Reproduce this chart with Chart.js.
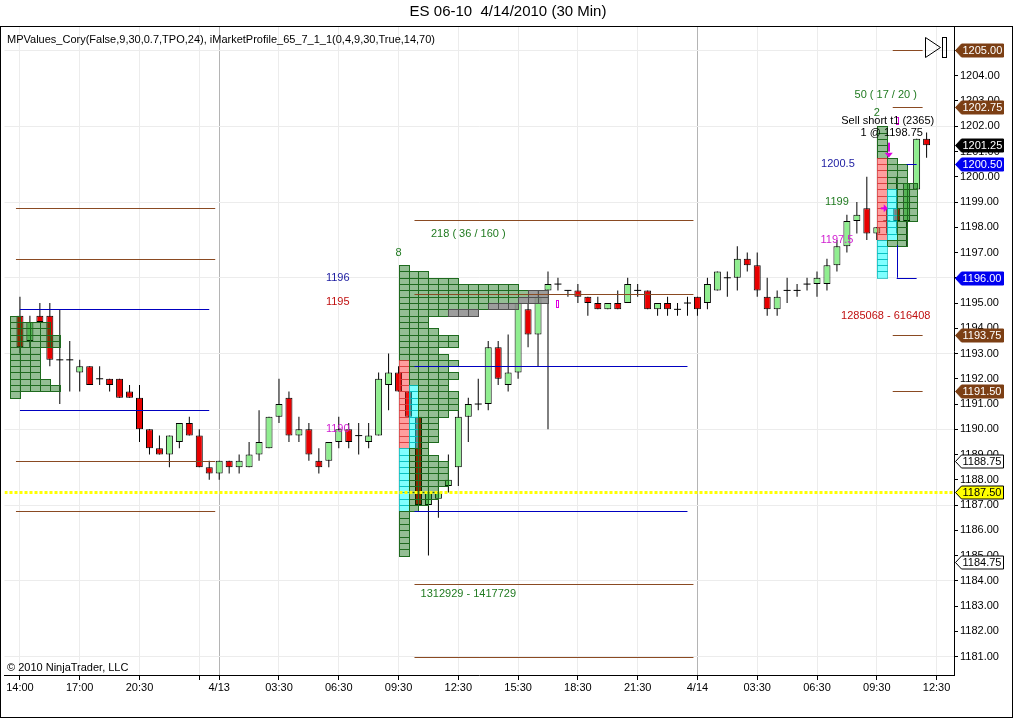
<!DOCTYPE html>
<html>
<head>
<meta charset="utf-8">
<script src="https://cdn.jsdelivr.net/npm/chart.js"></script>
<style>
  html, body { margin: 0; padding: 0; background: #fff; }
  #wrap { width: 1016px; height: 719px; }
</style>
</head>
<body>
<div id="wrap"><canvas id="chart" width="1016" height="719"></canvas></div>
<script>
// ES 06-10, 30 min bars, 4/12 14:00 .. 4/14 12:00
const opens = [1194.5,1193.5,1194.5,1194.5,1192.75,1192.75,1192.25,1192.5,1192.0,1192.0,
  1192.0,1191.5,1191.25,1190.0,1189.25,1189.0,1189.5,1190.25,1189.75,1188.5,
  1188.25,1188.75,1188.5,1188.5,1189.0,1189.25,1190.5,1191.25,1189.75,1190.0,
  1188.75,1188.75,1189.5,1190.0,1189.75,1189.5,1189.75,1191.75,1192.25,1191.5,
  1190.5,1187.0,1187.25,1187.75,1188.5,1190.5,1191.0,1191.0,1193.25,1191.75,
  1192.25,1194.75,1193.75,1195.5,1195.75,1195.5,1195.5,1195.25,1195.0,1194.75,
  1195.0,1195.0,1195.5,1195.5,1194.75,1195.0,1194.75,1195.0,1195.25,1195.0,
  1195.5,1196.0,1196.0,1196.75,1196.5,1195.25,1194.75,1195.5,1195.5,1195.75,
  1195.75,1195.75,1196.5,1197.25,1198.25,1198.75,1197.75,1198.25,1198.75,1198.25,
  1199.5,1201.5];
const highs = [1195.25,1194.5,1195.0,1195.0,1194.75,1193.5,1192.75,1192.5,1192.5,1192.0,
  1192.0,1191.75,1191.75,1190.0,1189.75,1189.75,1190.25,1190.5,1190.0,1188.75,
  1188.75,1188.75,1189.0,1189.5,1190.75,1190.5,1192.0,1191.5,1190.5,1190.25,
  1189.25,1189.5,1190.5,1190.25,1190.25,1190.25,1192.25,1193.0,1192.5,1191.5,
  1190.5,1188.0,1188.25,1189.0,1190.75,1191.25,1192.0,1193.5,1193.5,1193.75,
  1195.0,1195.0,1195.5,1196.25,1196.0,1195.5,1195.75,1195.25,1195.25,1195.0,
  1195.5,1196.0,1195.75,1195.5,1195.0,1195.25,1195.0,1195.25,1195.25,1196.0,
  1196.25,1196.25,1197.25,1197.0,1197.0,1196.0,1195.5,1196.0,1195.75,1196.0,
  1196.25,1196.75,1197.5,1198.5,1199.0,1200.0,1198.0,1198.75,1200.0,1199.75,
  1201.5,1201.75];
const lows = [1193.0,1193.25,1194.25,1192.5,1191.0,1191.5,1191.5,1191.75,1191.75,1191.5,
  1191.25,1191.25,1189.5,1189.0,1189.0,1188.5,1189.25,1189.75,1188.5,1188.0,
  1188.0,1188.25,1188.25,1188.5,1188.75,1189.25,1190.25,1189.5,1189.5,1188.75,
  1188.25,1188.5,1189.25,1189.25,1189.0,1189.25,1189.75,1190.75,1191.5,1190.5,
  1187.0,1185.0,1186.5,1187.5,1187.75,1189.5,1190.75,1190.75,1191.75,1191.5,
  1192.0,1193.25,1192.5,1190.0,1195.5,1195.25,1195.0,1194.5,1194.75,1194.75,
  1194.75,1195.0,1195.25,1194.75,1194.5,1194.5,1194.5,1194.5,1194.5,1194.75,
  1195.5,1195.25,1195.5,1196.25,1195.25,1194.5,1194.5,1195.0,1195.25,1195.5,
  1195.25,1195.5,1196.25,1197.0,1197.75,1197.5,1197.5,1197.75,1197.75,1197.25,
  1199.5,1200.75];
const closes = [1193.25,1194.25,1194.25,1192.75,1192.75,1192.75,1192.5,1191.75,1192.0,1191.75,
  1191.25,1191.25,1190.0,1189.25,1189.0,1189.75,1190.25,1189.75,1188.5,1188.25,
  1188.75,1188.5,1188.75,1189.0,1189.5,1190.5,1191.0,1189.75,1190.0,1189.0,
  1188.5,1189.5,1190.0,1189.5,1189.75,1189.75,1192.0,1192.25,1191.5,1190.5,
  1187.0,1187.5,1187.5,1188.0,1190.5,1191.0,1191.0,1193.25,1192.0,1192.25,
  1195.0,1193.75,1195.25,1195.75,1195.75,1195.5,1195.25,1195.0,1194.75,1195.0,
  1194.75,1195.75,1195.5,1194.75,1195.0,1194.75,1194.75,1195.0,1194.75,1195.75,
  1196.25,1196.0,1196.75,1196.5,1195.5,1194.75,1195.25,1195.5,1195.5,1195.75,
  1196.0,1196.5,1197.25,1198.25,1198.5,1197.75,1198.0,1198.25,1198.25,1199.75,
  1201.5,1201.25];

const xTickBars = [0, 6, 12, 18, 20, 26, 32, 38, 44, 50, 56, 62, 68, 74, 80, 86, 92];
const xTickLabels = ['14:00','17:00','20:30','','4/13','03:30','06:30','09:30','12:30',
  '15:30','18:30','21:30','4/14','03:30','06:30','09:30','12:30'];
const dayBreakBars = [20, 68];
const priceTicks = [1181,1182,1183,1184,1185,1186,1187,1188,1189,1190,1191,1192,1193,
  1194,1195,1196,1197,1198,1199,1200,1201,1202,1203,1204,1205];

// market profiles: first bar, top row price, TPO count per 0.25 row
const profAStart = -1, profATop = 1194.5;
const profACounts = [1,4,4,5,5,3,3,3,3,3,4,5,1];
const profBStart = 38, profBTop = 1196.5;
const profBCounts = [1,3,6,12,15,15,12,8,3,3,4,6,6,4,5,6,5,6,5,5,6,6,6,5,4,4,4,4,3,3,
  4,5,5,5,5,4,4,3,2,1,1,1,1,1,1,1];
const profBGray = [0,0,0,0,2,3,3,3];
const profCStart = 86, profCTop = 1202.0;
const profCCounts = [1,1,1,1,1,2,3,3,3,4,4,4,4,4,4,3,3,3,3,1,1,1,1,1];
// [profile start bar, column, top row, bottom row]
const pinkCells = [[38,0,1192.75,1189.5],[86,0,1200.75,1197.75]];
const cyanCells = [[38,0,1189.25,1187.0],[38,1,1191.75,1189.5],[86,0,1197.5,1196.25],[86,1,1199.5,1197.75]];

// value lines: [price, from bar, to bar]
const brownLines = [[1198.75,-0.4,19.6],[1196.75,-0.4,19.6],[1188.75,-0.4,19.6],[1186.75,-0.4,19.6],
  [1198.3,39.6,67.6],[1195.375,39.6,67.6],[1183.875,39.6,67.6],[1181.0,39.6,67.6],
  [1205.0,87.6,90.6],[1202.75,87.6,90.6],[1193.75,87.6,90.6],[1191.5,87.6,90.6]];
const blueLines = [[1194.75,0,19],[1190.75,0,19],[1192.5,39.6,67],[1186.75,39.6,67],
  [1200.5,89,90],[1196.0,88,90]];
const lastPrice = 1187.5;

const flagPrices = [1205.0,1202.75,1201.25,1200.5,1196.0,1193.75,1191.5,1188.75,1187.5,1184.75];
const flagKinds = ['brown','brown','black','blue','blue','brown','brown','white','yellow','white'];

const bars = opens.map((o, i) => i);
const bodyData = bars.filter(i => opens[i] !== closes[i]).map(i => ({x: i, y: [opens[i], closes[i]]}));
const bodyColors = bars.filter(i => opens[i] !== closes[i]).map(i => closes[i] > opens[i] ? '#90ee90' : '#e80000');
const dojiData = bars.filter(i => opens[i] === closes[i]).map(i => ({x: i, y: opens[i]}));
const wickData = bars.map(i => ({x: i, y: [lows[i], highs[i]]}));

Chart.defaults.font.family = "'Liberation Sans', Arial, sans-serif";
Chart.defaults.font.size = 11;
Chart.defaults.color = '#000';

const FONT = "11px 'Liberation Sans', Arial, sans-serif";

function drawProfile(ctx, xs, ys, start, top, counts, gray) {
  counts.forEach((n, r) => {
    const p = top - r * 0.25;
    const y0 = Math.round(ys.getPixelForValue(p)), y1 = Math.round(ys.getPixelForValue(p - 0.25));
    for (let k = 0; k < n; k++) {
      const x0 = Math.round(xs.getPixelForValue(start + k)), x1 = Math.round(xs.getPixelForValue(start + k + 1));
      let fill = 'rgba(0,100,0,0.42)', stroke = '#1e6a1e';
      if (gray && k >= n - (gray[r] || 0)) { fill = 'rgba(140,140,140,0.85)'; stroke = '#505050'; }
      pinkCells.forEach(c => {
        if (c[0] === start && c[1] === k && p <= c[2] + 1e-6 && p >= c[3] - 1e-6) { fill = 'rgba(255,40,40,0.45)'; stroke = 'rgba(210,60,60,0.7)'; }
      });
      cyanCells.forEach(c => {
        if (c[0] === start && c[1] === k && p <= c[2] + 1e-6 && p >= c[3] - 1e-6) { fill = 'rgba(0,255,255,0.5)'; stroke = 'rgba(0,180,180,0.7)'; }
      });
      ctx.fillStyle = fill;
      ctx.fillRect(x0, y0, x1 - x0, y1 - y0);
      ctx.strokeStyle = stroke;
      ctx.lineWidth = 1;
      ctx.strokeRect(x0 + 0.5, y0 + 0.5, x1 - x0, y1 - y0);
    }
  });
}

function hLine(ctx, xs, ys, l, color) {
  const y = Math.round(ys.getPixelForValue(l[0])) + 0.5;
  ctx.strokeStyle = color;
  ctx.lineWidth = 1;
  ctx.beginPath();
  ctx.moveTo(xs.getPixelForValue(l[1]), y);
  ctx.lineTo(xs.getPixelForValue(l[2]), y);
  ctx.stroke();
}

function label(ctx, xs, ys, text, bar, price, color, align) {
  ctx.font = FONT;
  ctx.fillStyle = color;
  ctx.textAlign = align || 'center';
  ctx.textBaseline = 'middle';
  ctx.fillText(text, xs.getPixelForValue(bar), ys.getPixelForValue(price));
}

const overlay = {
  id: 'overlay',
  beforeDraw(chart) {
    const ctx = chart.ctx;
    ctx.save();
    ctx.fillStyle = '#fff';
    ctx.fillRect(0, 0, chart.width, chart.height);
    ctx.restore();
  },
  afterDatasetsDraw(chart) {
    const ctx = chart.ctx, xs = chart.scales.x, ys = chart.scales.y, a = chart.chartArea;
    ctx.save();
    ctx.beginPath();
    ctx.rect(a.left, a.top, a.right - a.left, a.bottom - a.top);
    ctx.clip();

    drawProfile(ctx, xs, ys, profAStart, profATop, profACounts, null);
    drawProfile(ctx, xs, ys, profBStart, profBTop, profBCounts, profBGray);
    drawProfile(ctx, xs, ys, profCStart, profCTop, profCCounts, null);

    brownLines.forEach(l => hLine(ctx, xs, ys, l, '#8a4a22'));
    blueLines.forEach(l => hLine(ctx, xs, ys, l, '#0000c0'));
    // bracket of the right value area
    ctx.strokeStyle = '#0000c0';
    ctx.beginPath();
    const vx = Math.round(xs.getPixelForValue(88)) + 0.5;
    ctx.moveTo(vx, ys.getPixelForValue(1197.3));
    ctx.lineTo(vx, ys.getPixelForValue(1196.0));
    ctx.stroke();

    // last price dotted line
    ctx.strokeStyle = '#ffff00';
    ctx.lineWidth = 3;
    ctx.setLineDash([3, 2]);
    const yy = Math.round(ys.getPixelForValue(lastPrice)) + 0.5;
    ctx.beginPath();
    ctx.moveTo(a.left, yy);
    ctx.lineTo(a.right, yy);
    ctx.stroke();
    ctx.setLineDash([]);

    // trade markers
    ctx.strokeStyle = '#e000e0';
    ctx.lineWidth = 1;
    ctx.strokeRect(Math.round(xs.getPixelForValue(53.8)) + 0.5, Math.round(ys.getPixelForValue(1195.1)) + 0.5, 2, 7);
    ctx.strokeRect(Math.round(xs.getPixelForValue(87.9)) + 0.5, Math.round(ys.getPixelForValue(1202.35)) + 0.5, 2, 7);
    ctx.fillStyle = '#e000e0';
    const ax = xs.getPixelForValue(87.1);
    ctx.fillRect(Math.round(ax), ys.getPixelForValue(1201.35), 2, 9);
    ctx.beginPath();
    ctx.moveTo(ax - 3, ys.getPixelForValue(1200.95));
    ctx.lineTo(ax + 5, ys.getPixelForValue(1200.95));
    ctx.lineTo(ax + 1, ys.getPixelForValue(1200.75));
    ctx.fill();
    const rx = xs.getPixelForValue(86.6), ry = ys.getPixelForValue(1198.75);
    ctx.fillRect(rx - 2, ry - 1, 4, 2);
    ctx.beginPath();
    ctx.moveTo(rx + 1, ry - 4);
    ctx.lineTo(rx + 5, ry);
    ctx.lineTo(rx + 1, ry + 4);
    ctx.fill();

    // profile / value area labels
    label(ctx, xs, ys, '1196', 31.9, 1196.0, '#1a1aa0');
    label(ctx, xs, ys, '1195', 31.9, 1195.05, '#c01010');
    label(ctx, xs, ys, '1190', 31.9, 1190.0, '#d020d0');
    label(ctx, xs, ys, '8', 38, 1196.98, '#207a20');
    label(ctx, xs, ys, '218 ( 36 / 160 )', 45, 1197.73, '#207a20');
    label(ctx, xs, ys, '1312929 - 1417729', 45, 1183.48, '#207a20');
    label(ctx, xs, ys, '50 ( 17 / 20 )', 86.9, 1203.23, '#207a20');
    label(ctx, xs, ys, '2', 86, 1202.52, '#207a20');
    label(ctx, xs, ys, 'Sell short t1 (2365)', 87.1, 1202.2, '#000');
    label(ctx, xs, ys, '1 @ 1198.75', 87.5, 1201.73, '#000');
    label(ctx, xs, ys, '1200.5', 82.1, 1200.5, '#1a1aa0');
    label(ctx, xs, ys, '1199', 82, 1199.0, '#207a20');
    label(ctx, xs, ys, '1197.5', 82, 1197.5, '#d020d0');
    label(ctx, xs, ys, '1285068 - 616408', 86.9, 1194.49, '#c01010');
    ctx.restore();
  },
  afterDraw(chart) {
    const ctx = chart.ctx, ys = chart.scales.y, a = chart.chartArea;
    ctx.save();
    // title and texts
    ctx.fillStyle = '#000';
    ctx.font = "15px 'Liberation Sans', Arial, sans-serif";
    ctx.textAlign = 'center';
    ctx.textBaseline = 'middle';
    ctx.fillText('ES 06-10  4/14/2010 (30 Min)', 508, 12);
    ctx.font = FONT;
    ctx.textAlign = 'left';
    ctx.fillText('MPValues_Cory(False,9,30,0.7,TPO,24), iMarketProfile_65_7_1_1(0,4,9,30,True,14,70)', 7, 40);
    ctx.fillText('\u00a9 2010 NinjaTrader, LLC', 7, 668);

    // frame
    ctx.strokeStyle = '#000';
    ctx.lineWidth = 1;
    ctx.strokeRect(0.5, 26.5, 1012, 691);
    ctx.beginPath();
    ctx.moveTo(a.left, 26.5);
    ctx.lineTo(a.right, 26.5);
    ctx.stroke();

    // end-of-chart marker
    ctx.beginPath();
    ctx.moveTo(925.5, 37.5);
    ctx.lineTo(940.5, 47.5);
    ctx.lineTo(925.5, 57.5);
    ctx.closePath();
    ctx.stroke();
    ctx.strokeRect(942.5, 37.5, 4, 20);

    // price flags on the axis
    const styles = {
      brown: ['#7c3f14', '#7c3f14', '#fff'],
      black: ['#000', '#000', '#fff'],
      blue: ['#0000f0', '#0000f0', '#fff'],
      white: ['#fff', '#000', '#000'],
      yellow: ['#ffff00', '#000', '#000']
    };
    flagPrices.forEach((p, i) => {
      const s = styles[flagKinds[i]];
      const y = Math.round(ys.getPixelForValue(p)) + 0.5;
      const x0 = a.right + 1.5, x1 = x0 + 6, x2 = 1003.5;
      ctx.beginPath();
      ctx.moveTo(x0, y);
      ctx.lineTo(x1, y - 6.5);
      ctx.lineTo(x2, y - 6.5);
      ctx.lineTo(x2, y + 6.5);
      ctx.lineTo(x1, y + 6.5);
      ctx.closePath();
      ctx.fillStyle = s[0];
      ctx.fill();
      ctx.strokeStyle = s[1];
      ctx.stroke();
      ctx.fillStyle = s[2];
      ctx.font = FONT;
      ctx.textAlign = 'left';
      ctx.textBaseline = 'middle';
      ctx.fillText(p.toFixed(2), x1 + 1, y + 0.5);
    });
    ctx.restore();
  }
};

new Chart(document.getElementById('chart'), {
  type: 'bar',
  data: {
    datasets: [
      {
        label: 'bodies',
        data: bodyData,
        backgroundColor: bodyColors,
        borderColor: '#000',
        borderWidth: 1,
        borderSkipped: false,
        barThickness: 7,
        grouped: false,
        inflateAmount: 0,
        order: 2
      },
      {
        label: 'wicks',
        data: wickData,
        backgroundColor: '#000',
        borderWidth: 0,
        barThickness: 1,
        grouped: false,
        inflateAmount: 0,
        order: 3
      },
      {
        type: 'line',
        label: 'doji',
        data: dojiData,
        showLine: false,
        pointStyle: 'line',
        pointRadius: 3.5,
        pointHoverRadius: 3.5,
        borderColor: '#000',
        pointBorderColor: '#000',
        pointBorderWidth: 1,
        order: 1
      }
    ]
  },
  options: {
    responsive: false,
    animation: false,
    devicePixelRatio: 1,
    events: [],
    layout: { padding: { top: 27, left: 1, right: 0, bottom: 0 } },
    plugins: { legend: { display: false }, tooltip: { enabled: false }, title: { display: false } },
    scales: {
      x: {
        type: 'linear',
        min: -1.55,
        max: 93.75,
        offset: false,
        afterBuildTicks: s => { s.ticks = xTickBars.map(v => ({ value: v })); },
        afterFit: s => { s.height = 44; },
        ticks: {
          autoSkip: false,
          maxRotation: 0,
          padding: 1,
          callback: v => xTickLabels[xTickBars.indexOf(v)]
        },
        grid: {
          offset: false,
          tickLength: 5,
          tickColor: '#000',
          color: c => (c.tick && dayBreakBars.includes(c.tick.value)) ? '#b4b4b4' : '#ececec'
        },
        border: { color: '#000' }
      },
      y: {
        type: 'linear',
        position: 'right',
        min: 1180.27,
        max: 1205.93,
        afterBuildTicks: s => { s.ticks = priceTicks.map(v => ({ value: v })); },
        afterFit: s => { s.width = 62; },
        ticks: {
          padding: 2,
          callback: v => Number(v).toFixed(2)
        },
        grid: {
          tickLength: 4,
          tickColor: '#000',
          color: c => (c.tick && (c.tick.value - 1181) % 3 === 0) ? '#ececec' : 'rgba(0,0,0,0)'
        },
        border: { color: '#000' }
      }
    }
  },
  plugins: [overlay]
});
</script>
</body>
</html>
